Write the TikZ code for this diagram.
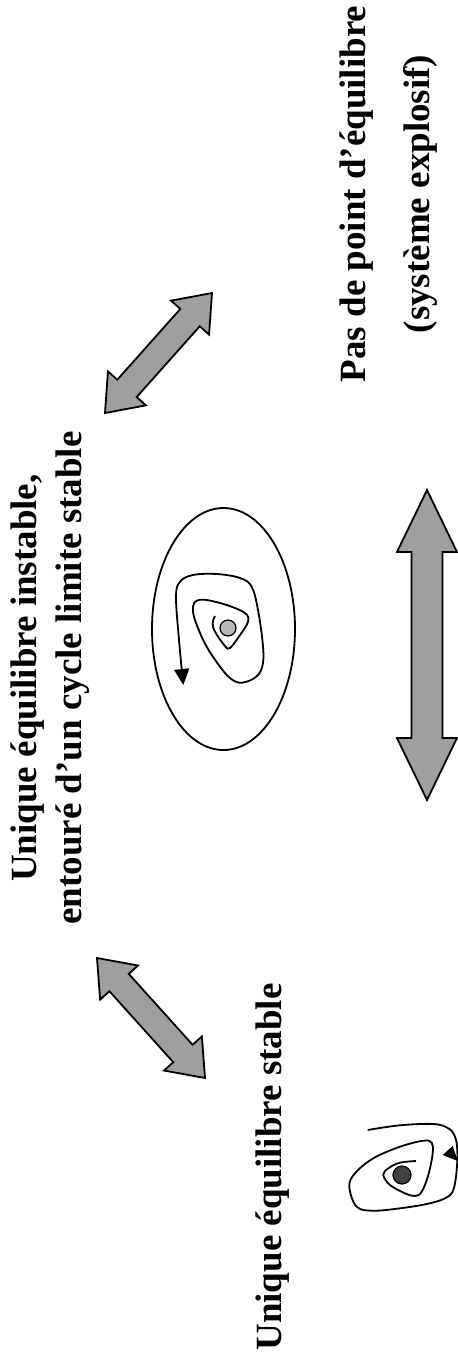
\documentclass[tikz,border=0pt]{standalone}
\usepackage{fontspec}
\setmainfont{Liberation Serif}
\usetikzlibrary{calc,arrows.meta,shapes.geometric}
\tikzset{
  bigarrow/.style={draw=black, line width=1.8pt, fill=gray!75!white, line join=miter},
  lbl/.style={rotate=90, align=center, inner sep=0pt, font=\bfseries\fontsize{37}{45}\selectfont},
  orbit/.style={draw=black, line width=1.8pt},
}
\newcommand{\dblarr}[5]{%
  \coordinate (hA) at ($(#1)!#5!(#2)$);
  \coordinate (hB) at ($(#2)!#5!(#1)$);
  \draw[bigarrow] (#1) -- ($(hA)!#4!90:(#2)$) -- ($(hA)!#3!90:(#2)$) -- ($(hB)!#3!-90:(#1)$) -- ($(hB)!#4!-90:(#1)$) -- (#2) -- ($(hB)!#4!90:(#1)$) -- ($(hB)!#3!90:(#1)$) -- ($(hA)!#3!-90:(#2)$) -- ($(hA)!#4!-90:(#2)$) -- cycle;}
\begin{document}
\begin{tikzpicture}[x=1pt,y=-1pt]
\useasboundingbox[fill=white] (0,0) rectangle (458,1366);
% texts
\node[lbl, font=\bfseries\fontsize{37}{64}\selectfont] (none) at (389,194) {Pas de point d’équilibre\\(système explosif)};
\node[lbl] (lc) at (50.5,678) {Unique équilibre instable,\\entouré d’un cycle limite stable};
\node[lbl] (st) at (273,1167) {Unique équilibre stable};
% big arrows
\coordinate (a1) at (105,413); \coordinate (a2) at (212,293);
\dblarr{a1}{a2}{13pt}{25.5pt}{33pt}
\coordinate (b1) at (97,958); \coordinate (b2) at (205,1078);
\dblarr{b1}{b2}{13pt}{25.5pt}{33pt}
\coordinate (c1) at (427,490); \coordinate (c2) at (427,800);
\dblarr{c1}{c2}{15.5pt}{30pt}{62pt}
% limit cycle picture
\node[draw, line width=1.8pt, ellipse, minimum width=143pt, minimum height=242pt, inner sep=0pt] (ell) at (223.5,629) {};
\draw[orbit, -{Triangle[length=16pt,width=15pt]}] plot[smooth, tension=0.6] coordinates {(215,616) (212.7,623) (215,631.7) (225,646) (230,648) (240,635) (248,621.7) (245,613) (226.7,605) (206.7,600) (196.7,600.7) (193,606.7) (195,620) (206.7,646.7) (225,673) (236.7,682) (246.7,681.7) (258,675) (263,663) (262.7,643) (258,610) (251.7,586.7) (240,578) (216.7,574) (193,575) (180,581.7) (176,596.7) (179,640) (183.3,685)};
\node[circle, draw, line width=1.2pt, fill=gray!55!white, minimum size=16pt, inner sep=0pt] (uneq) at (228,628) {};
% stable spiral
\draw[orbit] plot[smooth, tension=0.6] coordinates {(367.7,1130) (400,1125.3) (433.3,1124) (448.3,1128.3) (455,1136.7) (457.3,1150) (456.7,1170) (453.3,1190) (445,1198.3) (426.7,1204) (400,1208.3) (373.3,1210.7) (356.7,1206.7) (349.3,1186.7) (355,1173.3) (373.3,1158.3) (400,1146.7) (423.3,1140.7) (431.7,1142.7) (432.7,1153.3) (428.3,1175) (421.7,1191.7) (415,1196) (405,1193.3) (390,1185) (383.3,1175) (388.3,1168.3) (400,1162.7) (416,1161)};
\fill (442.7,1155) -- (452.7,1146) -- (457.8,1161) -- cycle;
\node[circle, draw, line width=1.2pt, fill=black!75, minimum size=18pt, inner sep=0pt] (steq) at (402,1175) {};
\end{tikzpicture}
\end{document}
